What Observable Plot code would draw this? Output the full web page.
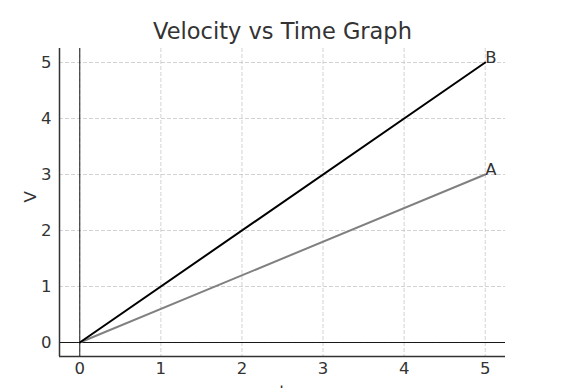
<!DOCTYPE html>
<html>
<head>
<meta charset="utf-8">
<script src="https://cdn.jsdelivr.net/npm/d3@7"></script>
<script src="https://cdn.jsdelivr.net/npm/@observablehq/plot@0.6"></script>
<style>
  html, body { margin: 0; padding: 0; background: #fff; }
  svg { display: block; }
</style>
</head>
<body>
<div id="chart"></div>
<script>
const times = [0, 5];
const seriesA = [0, 3];
const seriesB = [0, 5];
const seriesNames = ["A", "B"];
const xTicks = [0, 1, 2, 3, 4, 5];
const yTicks = [0, 1, 2, 3, 4, 5];
const title = "Velocity vs Time Graph";
const xLabel = "t";
const yLabel = "V";

const rows = [];
times.forEach((t, i) => rows.push({t, v: seriesA[i], s: "A"}));
times.forEach((t, i) => rows.push({t, v: seriesB[i], s: "B"}));
const ends = [
  {t: times[1], v: seriesA[1], s: seriesNames[0]},
  {t: times[1], v: seriesB[1], s: seriesNames[1]}
];
const xDom = [-0.25, 5.25];
const yDom = [-0.25, 5.25];
const font = "DejaVu Sans, sans-serif";
const fmt = d3.format("d");

const chart = Plot.plot({
  width: 567,
  height: 388,
  marginLeft: 59,
  marginRight: 62,
  marginTop: 48,
  marginBottom: 32,
  style: {fontFamily: font, fontSize: "16px", color: "#333", background: "#fff"},
  x: {domain: xDom, ticks: xTicks, label: null},
  y: {domain: yDom, ticks: yTicks, label: null},
  marks: [
    Plot.gridX(xTicks, {stroke: "#b0b0b0", strokeOpacity: 0.7, strokeDasharray: "4,2", strokeWidth: 0.8}),
    Plot.gridY(yTicks, {stroke: "#b0b0b0", strokeOpacity: 0.7, strokeDasharray: "4,2", strokeWidth: 0.8}),
    Plot.ruleX([0], {stroke: "#000", strokeWidth: 0.9}),
    Plot.ruleY([0], {stroke: "#000", strokeWidth: 0.9}),
    Plot.line(rows.filter(d => d.s === "A"), {x: "t", y: "v", stroke: "#808080", strokeWidth: 2}),
    Plot.line(rows.filter(d => d.s === "B"), {x: "t", y: "v", stroke: "#000", strokeWidth: 2}),
    Plot.text(ends, {x: "t", y: "v", text: "s", textAnchor: "start", lineAnchor: "bottom", dx: 0, dy: 0, fontSize: 16.5, fill: "#333"}),
    Plot.axisX(xTicks, {tickSize: 0, tickPadding: 6, label: null, fontSize: 16.5, tickFormat: fmt}),
    Plot.axisY(yTicks, {tickSize: 0, tickPadding: 8, label: null, fontSize: 16.5, tickFormat: fmt}),
    Plot.ruleX([xDom[0]], {stroke: "#333", strokeWidth: 1.5}),
    Plot.ruleY([yDom[0]], {stroke: "#333", strokeWidth: 1.5}),
    Plot.text([title], {frameAnchor: "top", dy: -17, lineAnchor: "middle", fontSize: 22.5, fill: "#333"}),
    Plot.text([xLabel], {frameAnchor: "bottom", dy: 29, lineAnchor: "top", fontSize: 16.5, fill: "#333"}),
    Plot.text([yLabel], {frameAnchor: "left", dx: -29, rotate: -90, fontSize: 16.5, fill: "#333"})
  ]
});
document.getElementById("chart").append(chart);
</script>
</body>
</html>
